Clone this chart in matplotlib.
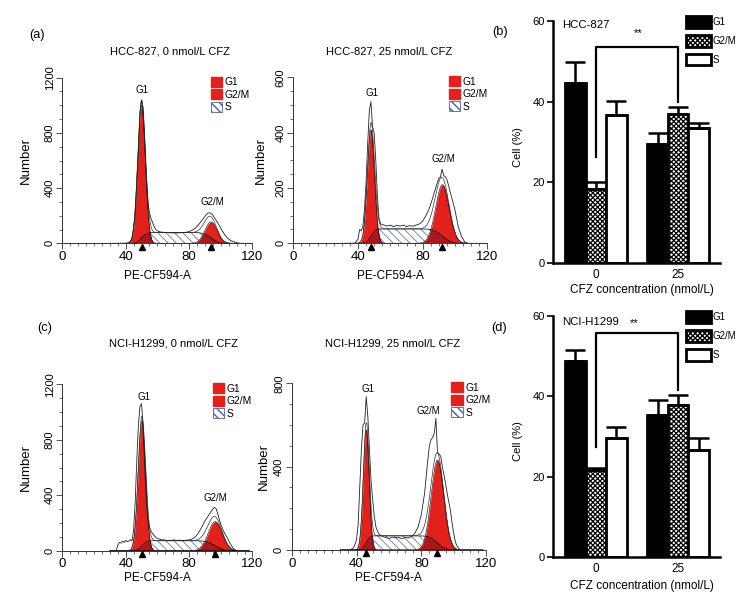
import math
import numpy as np
import matplotlib
matplotlib.use('Agg')
import matplotlib.pyplot as plt
from matplotlib.patches import Patch
from matplotlib.ticker import MultipleLocator

plt.rcParams['font.family'] = ['Liberation Sans', 'DejaVu Sans']

# ---- flow histograms: raw outline ----
hcc0_x = [40, 42, 44, 46, 48, 49, 50, 51, 52, 53, 54, 55, 56, 57, 58, 59, 60, 62, 64, 66, 68, 70, 72, 74,
          76, 78, 80, 82, 84, 86, 88, 90, 91, 92, 93, 94, 95, 96, 98, 100, 102, 104, 106, 108, 110, 112]
hcc0_y = [0, 2, 30, 200, 650, 950, 1035, 980, 750, 480, 300, 220, 180, 150, 120, 100, 90, 82, 80, 78, 76, 76,
          75, 76, 78, 80, 85, 95, 110, 135, 165, 195, 210, 218, 222, 215, 205, 185, 150, 110, 70, 40, 22, 12, 5, 0]

hcc25_x = [38, 40, 41, 42, 43, 44, 45, 46, 47, 48, 49, 50, 51, 52, 53, 54, 55, 56, 58, 60, 62, 64, 66, 68, 70,
           72, 74, 76, 78, 80, 82, 84, 86, 88, 90, 91, 92, 93, 94, 95, 96, 97, 98, 100, 102, 104, 106, 108]
hcc25_y = [0, 15, 50, 45, 60, 120, 220, 360, 480, 512, 420, 400, 300, 170, 90, 70, 68, 66, 62, 66, 60, 65, 62,
           66, 60, 64, 62, 66, 70, 80, 100, 125, 160, 200, 235, 240, 268, 245, 240, 230, 210, 185, 165, 120, 60,
           25, 5, 0]

h1299_0_x = [34, 35, 36, 37, 38, 39, 40, 41, 42, 43, 44, 45, 46, 47, 48, 49, 50, 51, 52, 53, 54, 55, 56, 57, 58,
             59, 60, 62, 64, 66, 68, 70, 72, 74, 76, 78, 80, 82, 84, 86, 88, 90, 92, 94, 95, 96, 97, 98, 99, 100,
             102, 104, 106, 108, 110]
h1299_0_y = [0, 40, 60, 55, 70, 60, 75, 65, 70, 80, 70, 150, 350, 650, 900, 1040, 1060, 900, 600, 350, 220, 170,
             140, 125, 110, 95, 90, 80, 78, 75, 72, 78, 74, 76, 72, 76, 78, 85, 100, 130, 170, 215, 250, 285, 300,
             312, 305, 270, 230, 190, 135, 95, 50, 15, 0]

h1299_25_x = [36, 38, 39, 40, 41, 42, 43, 44, 45, 46, 47, 48, 49, 50, 51, 52, 53, 54, 56, 58, 60, 62, 64, 66, 68,
              70, 72, 74, 76, 78, 80, 82, 83, 84, 85, 86, 87, 88, 89, 90, 91, 92, 93, 94, 95, 96, 97, 98, 99, 100,
              101, 102, 104]
h1299_25_y = [0, 10, 25, 50, 120, 300, 480, 600, 610, 736, 640, 480, 330, 240, 160, 110, 90, 75, 65, 60, 55, 62,
              58, 60, 55, 60, 58, 65, 80, 110, 170, 270, 350, 430, 500, 530, 540, 560, 632, 470, 460, 450, 400, 360,
              320, 270, 230, 190, 130, 80, 40, 20, 0]

# fitted components: [centre, height, sd]; S plateau height
hcc0_g1, hcc0_g2m, hcc0_s = [50.0, 1000, 2.4], [93.8, 155, 3.8], 78
hcc25_g1, hcc25_g2m, hcc25_s = [48.0, 410, 2.2], [92.2, 212, 4.2], 52
h1299_0_g1, h1299_0_g2m, h1299_0_s = [50.2, 935, 2.3], [96.5, 210, 4.4], 72
h1299_25_g1, h1299_25_g2m, h1299_25_s = [46.0, 576, 1.8], [90.0, 432, 3.9], 68

# ---- bar charts ----
groups = ['0', '25']
b_g1, b_g1_err = [44.7, 29.5], [5.0, 2.7]
b_g2m, b_g2m_err = [18.3, 36.9], [1.9, 1.8]
b_s, b_s_err = [36.7, 33.5], [3.5, 1.1]
d_g1, d_g1_err = [48.8, 35.4], [2.7, 3.7]
d_g2m, d_g2m_err = [21.8, 38.0], [0.4, 2.3]
d_s, d_s_err = [29.6, 26.8], [2.9, 2.8]

RED = '#e2211c'
DARKRED = '#a9181b'
HATCHBLUE = '#4d5f9e'
CHECK = 'xxxxxxx'
W, H = 755, 599
erf = np.vectorize(math.erf)


def px(x, y):
    return x / W, 1 - y / H


def draw_hist(ax, hx, hy, g1, g2m, s_level, ymax, ymaj, ymin, g1_lbl, g2m_lbl, leg_x, xlab_y, ylab_x):
    xx = np.linspace(30, 118, 900)
    c1, h1, w1 = g1
    c2, h2, w2 = g2m
    y1 = h1 * np.exp(-0.5 * ((xx - c1) / w1) ** 2)
    y2 = h2 * np.exp(-0.5 * ((xx - c2) / w2) ** 2)
    ys = s_level * 0.5 * (erf((xx - c1) / (w1 * math.sqrt(2))) - erf((xx - c2) / (w2 * math.sqrt(2))))

    with plt.rc_context({'hatch.linewidth': 0.5}):
        ax.fill_between(xx, 0, ys, facecolor='white', edgecolor=HATCHBLUE, hatch='\\\\\\\\', lw=0, zorder=1)
    ax.fill_between(xx, 0, y1, color=RED, lw=0, zorder=2)
    ax.fill_between(xx, 0, y2, color=RED, lw=0, zorder=2)
    ax.fill_between(xx, 0, np.minimum(ys, np.maximum(y1, y2)), color=DARKRED, lw=0, zorder=3)
    ax.plot(xx, y1, color='black', lw=0.4, zorder=4)
    ax.plot(xx, y2, color='black', lw=0.4, zorder=4)
    ax.plot(xx, ys, color='black', lw=0.5, zorder=4)
    ax.plot(xx, y1 + y2 + ys, color='#333333', lw=0.5, zorder=4)
    ax.plot(hx, hy, color='#222222', lw=0.6, zorder=5)

    ax.plot([c1, c2], [-0.02, -0.02], ls='none', marker='^', ms=4.5, color='black',
            transform=ax.get_xaxis_transform(), clip_on=False, zorder=6)
    ax.text(g1_lbl[0], g1_lbl[1], 'G1', ha='center', va='center', fontsize=7)
    ax.text(g2m_lbl[0], g2m_lbl[1], 'G2/M', ha='center', va='center', fontsize=7)

    ax.set_xlim(0, 120)
    ax.set_ylim(0, ymax)
    ax.xaxis.set_major_locator(MultipleLocator(40))
    ax.xaxis.set_minor_locator(MultipleLocator(5))
    ax.yaxis.set_major_locator(MultipleLocator(ymaj))
    ax.yaxis.set_minor_locator(MultipleLocator(ymin))
    for sp in ['top', 'right']:
        ax.spines[sp].set_visible(False)
    for sp in ['left', 'bottom']:
        ax.spines[sp].set_linewidth(0.7)
        ax.spines[sp].set_color('#333333')
    ax.tick_params(which='major', length=4, width=0.6, color='#333333')
    ax.tick_params(which='minor', length=2.5, width=0.5, color='#333333')
    ax.tick_params(axis='x', labelsize=9.5, pad=1.5)
    ax.tick_params(axis='y', labelsize=8, labelrotation=90, pad=1.5)
    for t in ax.get_yticklabels():
        t.set_va('center')
    ax.set_xlabel('PE-CF594-A', fontsize=8.5)
    ax.xaxis.set_label_coords(0.5, xlab_y)
    ax.set_ylabel('Number', fontsize=9.5)
    ax.yaxis.set_label_coords(ylab_x, 0.5)

    with plt.rc_context({'hatch.linewidth': 0.5}):
        handles = [Patch(facecolor=RED, edgecolor=RED, label='G1'),
                   Patch(facecolor=RED, edgecolor=RED, label='G2/M'),
                   Patch(facecolor='white', edgecolor=HATCHBLUE, hatch='\\\\\\\\', lw=0.6, label='S')]
    ax.legend(handles=handles, loc='upper left', bbox_to_anchor=(leg_x, 1.03), borderaxespad=0,
              frameon=False, fontsize=7.4, handlelength=1.1, handleheight=1.1,
              handletextpad=0.25, labelspacing=0.2)


def draw_bars(ax, g1, g1e, g2m, g2me, s, se, bracket, star, name, name_y, xlab_y):
    pos = np.arange(len(groups))
    w = 0.25
    ekw = dict(elinewidth=1.8, capthick=1.8, ecolor='black')
    ax.bar(pos - w, g1, w, color='black', edgecolor='black', lw=2,
           yerr=[np.zeros(len(g1)), g1e], capsize=7, error_kw=ekw, zorder=2)
    with plt.rc_context({'hatch.linewidth': 0.9}):
        ax.bar(pos, g2m, w, facecolor='white', edgecolor='black', hatch=CHECK, lw=2,
               yerr=[np.zeros(len(g2m)), g2me], capsize=7, error_kw=ekw, zorder=2)
    ax.bar(pos + w, s, w, facecolor='white', edgecolor='black', lw=2,
           yerr=[np.zeros(len(s)), se], capsize=7, error_kw=ekw, zorder=2)

    b0, top, b1 = bracket
    ax.plot([0, 0, 1, 1], [b0, top, top, b1], color='black', lw=1.6, zorder=3)
    ax.text(star[0], star[1], '**', ha='center', va='center', fontsize=8)
    ax.text(-0.41, name_y, name, ha='left', va='center', fontsize=8.2)

    ax.set_xlim(-0.52, 1.51)
    ax.set_ylim(0, 60)
    ax.set_yticks([0, 20, 40, 60])
    ax.set_xticks(pos)
    ax.set_xticklabels(groups)
    for sp in ['top', 'right']:
        ax.spines[sp].set_visible(False)
    for sp in ['left', 'bottom']:
        ax.spines[sp].set_linewidth(1.8)
    ax.tick_params(axis='y', length=4, width=1.2, labelsize=8, pad=2)
    ax.tick_params(axis='x', length=0, labelsize=8.5, pad=4)
    ax.set_xlabel('CFZ concentration (nmol/L)', fontsize=8.5)
    ax.xaxis.set_label_coords(0.53, xlab_y)
    ax.set_ylabel('Cell (%)', fontsize=8)
    ax.yaxis.set_label_coords(-0.18, 0.48)

    with plt.rc_context({'hatch.linewidth': 0.9}):
        handles = [Patch(facecolor='black', edgecolor='black', lw=2, label='G1'),
                   Patch(facecolor='white', edgecolor='black', hatch=CHECK, lw=2, label='G2/M'),
                   Patch(facecolor='white', edgecolor='black', lw=2, label='S')]
    ax.legend(handles=handles, loc='upper left', bbox_to_anchor=(0.775, 1.035), borderaxespad=0,
              frameon=False, fontsize=7, handlelength=2.5, handleheight=1.45,
              handletextpad=0.2, labelspacing=0.75)


fig = plt.figure(figsize=(7.55, 5.99), dpi=100)

ax_a = fig.add_axes([0.0825, 0.5938, 0.2519, 0.2765])
ax_a2 = fig.add_axes([0.3885, 0.5938, 0.2570, 0.2771])
ax_c = fig.add_axes([0.0825, 0.0806, 0.2519, 0.2778])
ax_c2 = fig.add_axes([0.3864, 0.0818, 0.2574, 0.2783])
ax_b = fig.add_axes([0.7325, 0.5604, 0.2212, 0.4050])
ax_d = fig.add_axes([0.7325, 0.0696, 0.2212, 0.4028])

draw_hist(ax_a, hcc0_x, hcc0_y, hcc0_g1, hcc0_g2m, hcc0_s, 1200, 400, 100,
          (50, 1110), (95, 300), 0.76, -0.16, -0.158)
draw_hist(ax_a2, hcc25_x, hcc25_y, hcc25_g1, hcc25_g2m, hcc25_s, 600, 200, 50,
          (48.5, 542), (92.8, 304), 0.78, -0.16, -0.136)
draw_hist(ax_c, h1299_0_x, h1299_0_y, h1299_0_g1, h1299_0_g2m, h1299_0_s, 1200, 400, 100,
          (51.7, 1107), (96.3, 382), 0.77, -0.128, -0.158)
draw_hist(ax_c2, h1299_25_x, h1299_25_y, h1299_25_g1, h1299_25_g2m, h1299_25_s, 800, 400, 100,
          (47.3, 771), (84.4, 667), 0.80, -0.132, -0.112)

draw_bars(ax_b, b_g1, b_g1_err, b_g2m, b_g2m_err, b_s, b_s_err, (26.4, 53.6, 40.0), (0.51, 56.9),
          'HCC-827', 58.9, -0.087)
draw_bars(ax_d, d_g1, d_g1_err, d_g2m, d_g2m_err, d_s, d_s_err, (27.5, 55.7, 41.6), (0.47, 58.2),
          'NCI-H1299', 58.6, -0.094)

# titles and panel letters
fig.text(*px(170, 52), 'HCC-827, 0 nmol/L CFZ', ha='center', va='center', fontsize=8)
fig.text(*px(389, 52), 'HCC-827, 25 nmol/L CFZ', ha='center', va='center', fontsize=8)
fig.text(*px(173, 343), 'NCI-H1299, 0 nmol/L CFZ', ha='center', va='center', fontsize=8)
fig.text(*px(393, 343), 'NCI-H1299, 25 nmol/L CFZ', ha='center', va='center', fontsize=8)
fig.text(*px(37, 35), '(a)', ha='center', va='center', fontsize=9.2)
fig.text(*px(500, 32), '(b)', ha='center', va='center', fontsize=9.2)
fig.text(*px(45, 328), '(c)', ha='center', va='center', fontsize=9.2)
fig.text(*px(499, 328), '(d)', ha='center', va='center', fontsize=9.2)

fig.savefig('out.png', dpi=100)
